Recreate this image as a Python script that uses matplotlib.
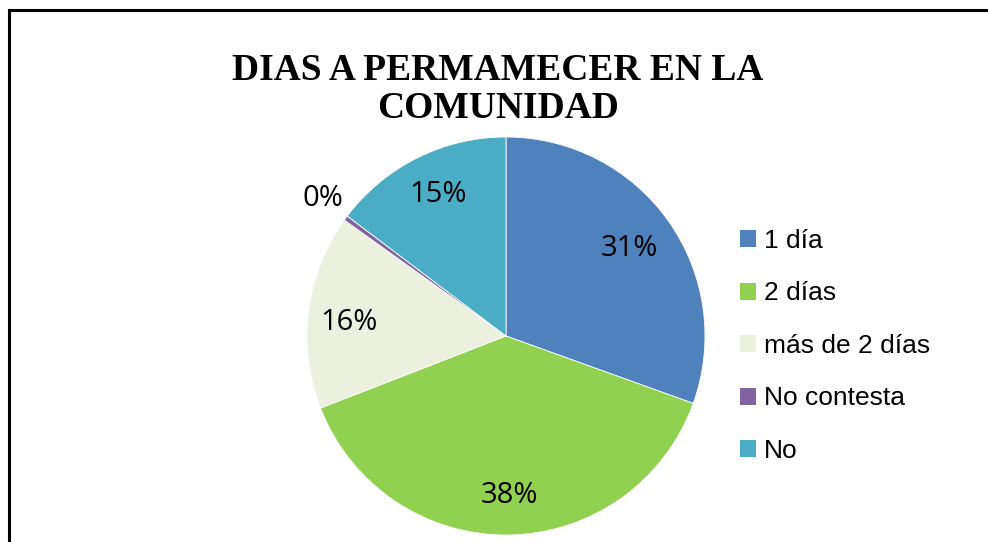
import matplotlib
matplotlib.use("Agg")
import matplotlib.pyplot as plt
from matplotlib.lines import Line2D
from matplotlib.patches import Patch

# Daten
categorias = ["1 día", "2 días", "más de 2 días", "No contesta", "No"]
valores = [30.5, 38.6, 15.8, 0.4, 14.7]
etiquetas = ["31%", "38%", "16%", "0%", "15%"]
colores = ["#4F81BD", "#92D050", "#EBF1DE", "#8064A2", "#4BACC6"]

fig = plt.figure(figsize=(9.88, 5.42), dpi=100)

# Kreisdiagramm: Mittelpunkt ~ (506, 336) px, Radius ~199 px
W, H = 988, 542
cx, cy, r = 506, 336, 199
ax = fig.add_axes([(cx - r) / W, 1 - (cy + r) / H, 2 * r / W, 2 * r / H])
wedges, _ = ax.pie(valores, colors=colores, startangle=90, counterclock=False,
                   radius=1.0, wedgeprops=dict(edgecolor="white", linewidth=0.6))
ax.set_xlim(-1, 1)
ax.set_ylim(-1, 1)
ax.set_aspect("equal")
ax.axis("off")

# Prozentbeschriftungen
pos_lab = [(0.62, 0.44), (0.015, -0.80), (-0.79, 0.07), (-0.92, 0.69), (-0.34, 0.71)]
for (x, y), t in zip(pos_lab, etiquetas):
    ax.text(x, y, t, ha="center", va="center", fontsize=21,
            family="Open Sans", color="black")

# Titel
fig.text(498 / W, 1 - 71 / H, "DIAS A PERMAMECER EN LA", ha="center", va="center",
         fontsize=27, fontweight="bold", family="Liberation Serif")
fig.text(498 / W, 1 - 109 / H, "COMUNIDAD", ha="center", va="center",
         fontsize=27, fontweight="bold", family="Liberation Serif")

# Legende
handles = [Patch(facecolor=c, edgecolor="none") for c in colores]
leg = fig.legend(handles, categorias, loc="upper left",
                 bbox_to_anchor=(740 / W, 1 - 229 / H), frameon=False,
                 prop={"family": "Liberation Sans", "size": 19},
                 handlelength=0.6, handleheight=0.6, handletextpad=0.3,
                 labelspacing=1.08, borderaxespad=0, borderpad=0)

# Rahmen (links und oben)
fig.add_artist(Line2D([9 / W, 9 / W], [0, 1 - 10 / H], color="black", linewidth=2.2,
                      transform=fig.transFigure))
fig.add_artist(Line2D([9 / W, 1], [1 - 10 / H, 1 - 10 / H], color="black", linewidth=2.2,
                      transform=fig.transFigure))

fig.savefig("out.png", dpi=100)
